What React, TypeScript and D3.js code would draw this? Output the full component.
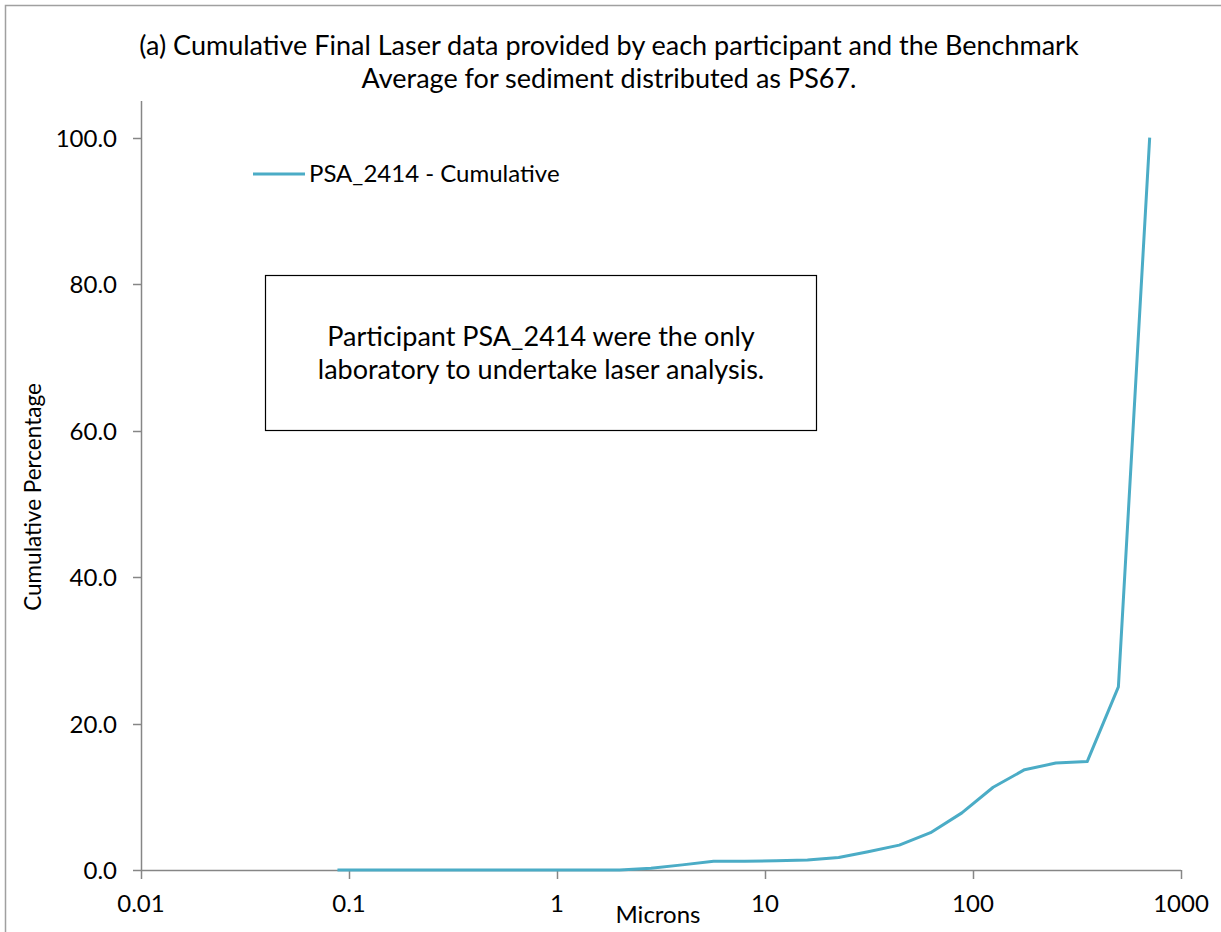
import React, { useEffect, useRef } from 'react';
import * as d3 from 'd3';

// particle sizes (microns), half-phi steps
const sizes = [
  0.088, 0.125, 0.177, 0.25, 0.354, 0.5, 0.707, 1, 1.414, 2, 2.83, 4, 5.66, 8, 11.3, 16,
  22.6, 31.3, 44.2, 62.5, 88.4, 125, 177, 250, 354, 500, 707,
];
const cumulative = [
  0, 0, 0, 0, 0, 0, 0, 0, 0, 0, 0.25, 0.7, 1.2, 1.2, 1.25, 1.35,
  1.7, 2.5, 3.4, 5.1, 7.8, 11.3, 13.7, 14.6, 14.8, 25.0, 100,
];
const xTicks = [0.01, 0.1, 1, 10, 100, 1000];
const yTicks = [0, 20, 40, 60, 80, 100];
const titleLines = [
  '(a) Cumulative Final Laser data provided by each participant and the Benchmark',
  'Average for sediment distributed as PS67.',
];
const noteLines = ['Participant PSA_2414 were the only', 'laboratory to undertake laser analysis.'];
const seriesName = 'PSA_2414 - Cumulative';

const W = 1221;
const H = 932;
const FONT = 'Lato, "Open Sans", sans-serif';
const AXIS = '#868686';
const LINE = '#4BACC6';

const App: React.FC = () => {
  const svgRef = useRef<SVGSVGElement>(null);

  useEffect(() => {
    if (!svgRef.current) return;
    const svg = d3.select(svgRef.current);
    svg.selectAll('*').remove();

    const x = d3.scaleLog().domain([0.01, 1000]).range([141, 1181]);
    const y = d3.scaleLinear().domain([0, 105]).range([870, 101]);

    svg.append('rect').attr('width', W).attr('height', H).attr('fill', '#fff');
    // chart area border
    svg.append('rect')
      .attr('x', 5.5).attr('y', 5.5)
      .attr('width', W + 20).attr('height', H + 20)
      .attr('fill', 'none').attr('stroke', '#a0a0a0').attr('stroke-width', 1.5);

    // title
    svg.append('g')
      .selectAll('text')
      .data(titleLines)
      .enter().append('text')
      .attr('x', 609)
      .attr('y', (d, i) => 55 + i * 33)
      .attr('text-anchor', 'middle')
      .style('font-family', FONT)
      .style('font-size', '27px')
      .attr('fill', '#000')
      .text(d => d);

    // y axis
    const gy = svg.append('g');
    gy.append('line')
      .attr('x1', 141.5).attr('x2', 141.5)
      .attr('y1', 101).attr('y2', 870)
      .attr('stroke', AXIS).attr('stroke-width', 1.5);
    yTicks.forEach(t => {
      gy.append('line')
        .attr('x1', 133).attr('x2', 141.5)
        .attr('y1', Math.round(y(t)) + 0.5).attr('y2', Math.round(y(t)) + 0.5)
        .attr('stroke', AXIS).attr('stroke-width', 1.5);
      gy.append('text')
        .attr('x', 117)
        .attr('y', y(t) + 9)
        .attr('text-anchor', 'end')
        .style('font-family', FONT)
        .style('font-size', '24px')
        .text(d3.format('.1f')(t));
    });

    // x axis
    const gx = svg.append('g');
    gx.append('line')
      .attr('x1', 141).attr('x2', 1181)
      .attr('y1', 870.5).attr('y2', 870.5)
      .attr('stroke', AXIS).attr('stroke-width', 1.5);
    xTicks.forEach(t => {
      gx.append('line')
        .attr('x1', Math.round(x(t)) + 0.5).attr('x2', Math.round(x(t)) + 0.5)
        .attr('y1', 870).attr('y2', 879)
        .attr('stroke', AXIS).attr('stroke-width', 1.5);
      gx.append('text')
        .attr('x', x(t))
        .attr('y', 912)
        .attr('text-anchor', 'middle')
        .style('font-family', FONT)
        .style('font-size', '24px')
        .text(String(t));
    });

    // axis titles
    svg.append('text')
      .attr('x', 658).attr('y', 923)
      .attr('text-anchor', 'middle')
      .style('font-family', FONT)
      .style('font-size', '24px')
      .text('Microns');
    svg.append('text')
      .attr('transform', 'translate(41,497) rotate(-90)')
      .attr('text-anchor', 'middle')
      .style('font-family', FONT)
      .style('font-size', '22.5px')
      .text('Cumulative Percentage');

    // series
    const pts = sizes.map((s, i) => [s, cumulative[i]] as [number, number]);
    const line = d3.line<[number, number]>()
      .x(d => x(d[0]))
      .y(d => y(d[1]));
    svg.append('path')
      .datum(pts)
      .attr('fill', 'none')
      .attr('stroke', LINE)
      .attr('stroke-width', 3)
      .attr('stroke-linejoin', 'round')
      .attr('d', line);

    // legend
    svg.append('line')
      .attr('x1', 253).attr('x2', 305)
      .attr('y1', 174).attr('y2', 174)
      .attr('stroke', LINE).attr('stroke-width', 3);
    svg.append('text')
      .attr('x', 309).attr('y', 182)
      .style('font-family', FONT)
      .style('font-size', '24px')
      .text(seriesName);

    // annotation box
    svg.append('rect')
      .attr('x', 265.5).attr('y', 275.5)
      .attr('width', 551).attr('height', 155)
      .attr('fill', '#fff').attr('stroke', '#000').attr('stroke-width', 1.2);
    svg.append('g')
      .selectAll('text')
      .data(noteLines)
      .enter().append('text')
      .attr('x', 541)
      .attr('y', (d, i) => 346 + i * 33)
      .attr('text-anchor', 'middle')
      .style('font-family', FONT)
      .style('font-size', '27px')
      .text(d => d);
  }, []);

  return (
    <div style={{ position: 'absolute', left: 0, top: 0 }}>
      <svg ref={svgRef} width={W} height={H} style={{ display: 'block' }} />
    </div>
  );
};

export default App;
